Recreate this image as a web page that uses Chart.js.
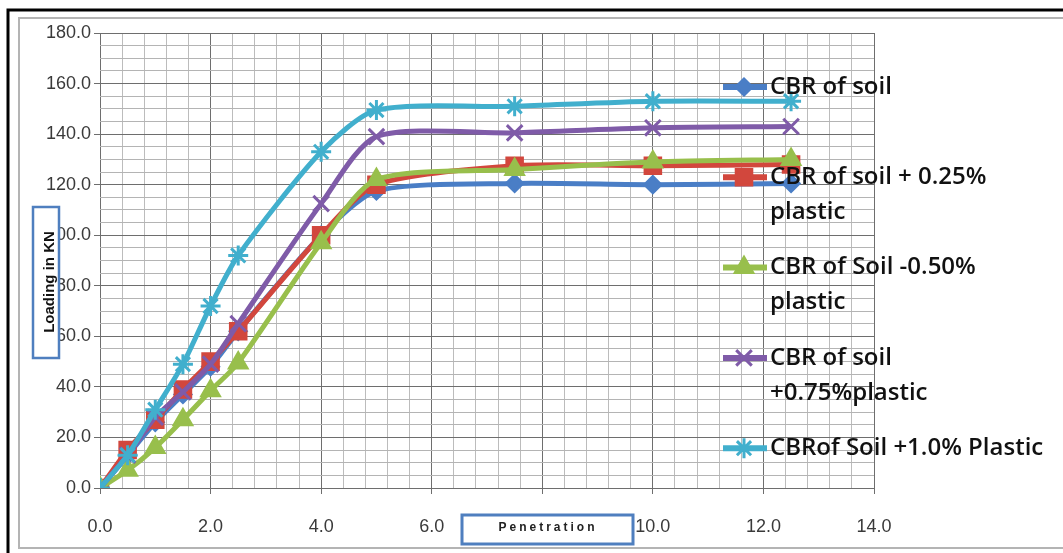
<!DOCTYPE html>
<html>
<head>
<meta charset="utf-8">
<title>CBR test - load vs penetration</title>
<script src="https://cdn.jsdelivr.net/npm/chart.js@4.4.0/dist/chart.umd.min.js"></script>
<style>
  html, body { margin: 0; padding: 0; background: #fff; }
  #wrap { position: relative; width: 1063px; height: 553px; }
</style>
</head>
<body>
<div id="wrap"><canvas id="cbrChart" width="1063" height="553"></canvas></div>
<script>
/* ===============================
   Data
================================ */
const penetration = [0, 0.5, 1.0, 1.5, 2.0, 2.5, 4.0, 5.0, 7.5, 10.0, 12.5];

const soil      = [0, 13, 26, 37, 48, 62, 100, 117.5, 120.5, 120, 120.5];
const plastic25 = [0, 15, 27, 39, 50, 62, 100, 120, 127.5, 127.5, 128];
const plastic50 = [0, 7, 16, 27, 38.5, 49.5, 97, 122, 126, 129, 130];
const plastic75 = [0, 13, 28, 38, 49, 65, 112.5, 139, 140.5, 142.5, 143];
const plastic100 = [0, 13, 31, 49, 72, 92, 133, 149.5, 151, 153, 153];

const seriesNames = [
  "CBR of soil",
  "CBR of soil + 0.25%\nplastic",
  "CBR of Soil -0.50%\nplastic",
  "CBR of soil\n+0.75%plastic",
  "CBRof Soil +1.0% Plastic",
];
const seriesValues = [soil, plastic25, plastic50, plastic75, plastic100];

const xTitle = "Penetration";
const yTitle = "Loading in KN";

/* ===============================
   Styling
================================ */
const seriesColors = ["#4a7ec6", "#d2473d", "#98bf4c", "#7f5ba8", "#41afcd"];
const pointStyles = ["rectRot", "rect", "triangle", "crossRot", "star"];
const pointSizes = [8, 11, 10, 11, 10];

const fontFamily = '"Liberation Sans", Arial, sans-serif';
const legendFont = '600 24px "Open Sans", "Liberation Sans", sans-serif';

function isMajor(v, step) {
  return Math.abs(v / step - Math.round(v / step)) < 1e-6;
}

// page frame (scanned border lines)
const framePlugin = {
  id: "frame",
  beforeDraw(chart) {
    const ctx = chart.ctx;
    ctx.save();
    ctx.fillStyle = "#fff";
    ctx.fillRect(0, 0, chart.width, chart.height);
    ctx.strokeStyle = "#b4b4b4";
    ctx.lineWidth = 2;
    ctx.strokeRect(19, 18, 1080, 530);
    ctx.strokeStyle = "#000";
    ctx.lineWidth = 3;
    ctx.beginPath();
    ctx.moveTo(8, 560);
    ctx.lineTo(8, 10);
    ctx.lineTo(1070, 10);
    ctx.stroke();
    ctx.restore();
  },
};

// legend drawn over the right part of the plot, like the original
const sideLegend = {
  id: "sideLegend",
  afterDraw(chart) {
    const ctx = chart.ctx;
    ctx.save();
    chart.data.datasets.forEach((ds, i) => {
      const y = 87 + i * 90.3;
      ctx.strokeStyle = ds.borderColor;
      ctx.lineWidth = 6;
      ctx.beginPath();
      ctx.moveTo(723, y);
      ctx.lineTo(767, y);
      ctx.stroke();
      ctx.fillStyle = ds.borderColor;
      ctx.lineWidth = 3;
      Chart.helpers.drawPoint(ctx, {
        pointStyle: ds.pointStyle,
        radius: ds.pointRadius,
        rotation: 0,
        borderWidth: 3,
      }, 744, y);
      ctx.fillStyle = "#111";
      ctx.font = legendFont;
      ctx.textBaseline = "middle";
      ctx.textAlign = "left";
      ds.label.split("\n").forEach((line, k) => ctx.fillText(line, 770, y + k * 35));
    });
    ctx.restore();
  },
};

// axis title boxes (blue-bordered text boxes on top of the tick labels)
const titleBoxes = {
  id: "titleBoxes",
  afterDraw(chart) {
    const ctx = chart.ctx;
    ctx.save();
    // y title
    ctx.fillStyle = "#fff";
    ctx.fillRect(33, 207, 26, 151);
    ctx.strokeStyle = "#4f7fbf";
    ctx.lineWidth = 2.5;
    ctx.strokeRect(33, 207, 26, 151);
    ctx.save();
    ctx.beginPath();
    ctx.rect(35, 209, 22, 147);
    ctx.clip();
    ctx.translate(50, 282);
    ctx.rotate(-Math.PI / 2);
    ctx.fillStyle = "#111";
    ctx.font = "bold 15px " + fontFamily;
    ctx.textAlign = "center";
    ctx.textBaseline = "middle";
    ctx.fillText(yTitle, 0, 0);
    ctx.restore();
    // x title
    ctx.fillStyle = "#fff";
    ctx.fillRect(462, 515, 171, 29);
    ctx.strokeStyle = "#4f7fbf";
    ctx.lineWidth = 3;
    ctx.strokeRect(462, 515, 171, 29);
    ctx.fillStyle = "#222";
    ctx.font = "bold 12px " + fontFamily;
    ctx.textAlign = "center";
    ctx.textBaseline = "middle";
    ctx.letterSpacing = "3px";
    ctx.fillText(xTitle, 548, 528);
    ctx.restore();
  },
};

new Chart(document.getElementById("cbrChart"), {
  type: "line",
  data: {
    datasets: seriesValues.map((vals, i) => ({
      label: seriesNames[i],
      data: penetration.map((x, k) => ({ x: x, y: vals[k] })),
      borderColor: seriesColors[i],
      backgroundColor: seriesColors[i],
      borderWidth: 5,
      tension: 0.25,
      pointStyle: pointStyles[i],
      pointRadius: pointSizes[i],
      pointBorderWidth: 3,
      pointBorderColor: seriesColors[i],
      pointBackgroundColor: seriesColors[i],
      order: seriesValues.length - i,
    })),
  },
  options: {
    responsive: false,
    animation: false,
    devicePixelRatio: 1,
    layout: { padding: { left: 0, top: 33, right: 189, bottom: 0 } },
    plugins: {
      legend: { display: false },
      tooltip: { enabled: false },
    },
    scales: {
      x: {
        type: "linear",
        min: 0,
        max: 14,
        border: { display: false },
        grid: {
          color: (c) => (isMajor(c.tick.value, 2) ? "#6e6e6e" : "#bcbcbc"),
          tickColor: (c) => (isMajor(c.tick.value, 2) ? "#6e6e6e" : "transparent"),
          tickLength: 6,
        },
        ticks: {
          stepSize: 0.4,
          autoSkip: false,
          maxRotation: 0,
          padding: 22,
          color: "#3a3a3a",
          font: { family: fontFamily, size: 18 },
          callback: (v) => (isMajor(v, 2) ? Number(v).toFixed(1) : ""),
        },
        afterFit(s) { s.height = 65; },
      },
      y: {
        min: 0,
        max: 180,
        border: { display: false },
        grid: {
          color: (c) => (isMajor(c.tick.value, 20) ? "#6e6e6e" : "#b4b4b4"),
          tickColor: (c) => (isMajor(c.tick.value, 20) ? "#6e6e6e" : "transparent"),
          tickLength: 6,
        },
        ticks: {
          stepSize: 5,
          autoSkip: false,
          padding: 3,
          color: "#3a3a3a",
          font: { family: fontFamily, size: 18 },
          callback: (v) => (isMajor(v, 20) ? Number(v).toFixed(1) : ""),
        },
        afterFit(s) { s.width = 100; },
      },
    },
  },
  plugins: [framePlugin, sideLegend, titleBoxes],
});
</script>
</body>
</html>
